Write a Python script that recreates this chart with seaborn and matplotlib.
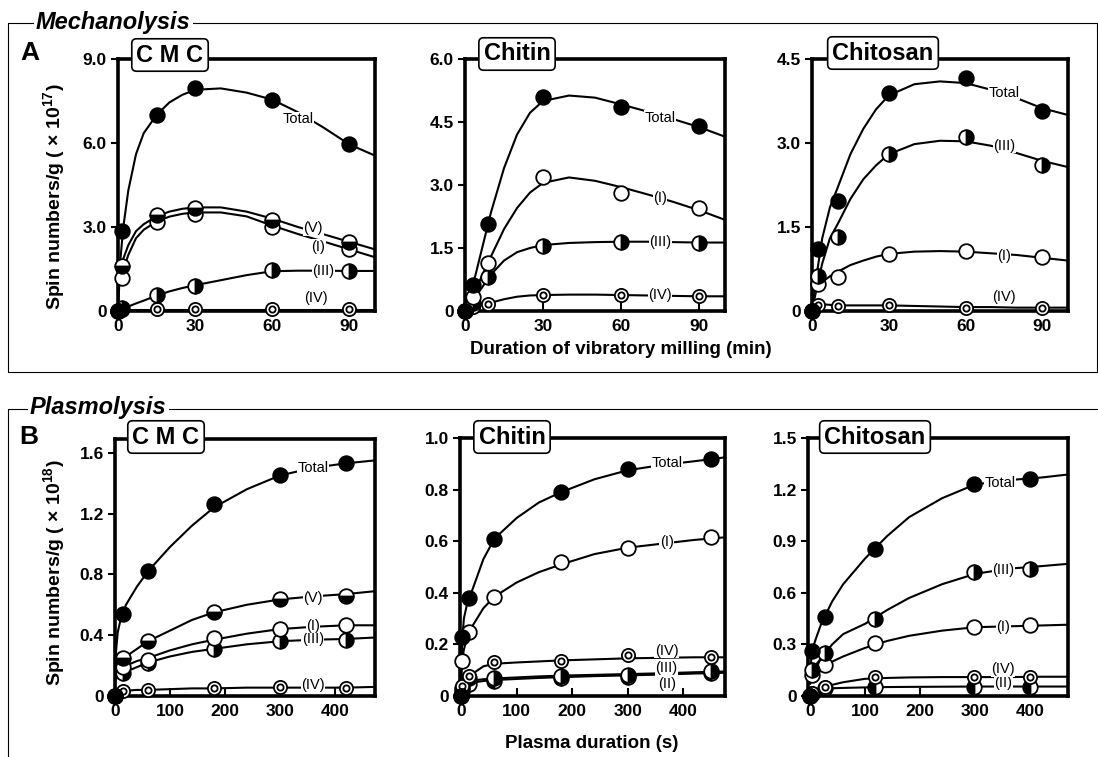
import numpy as np
import pandas as pd
import seaborn as sns
import matplotlib.pyplot as plt
from matplotlib.lines import Line2D

nan = np.nan

# ---- Mechanolysis (A), time in min ----
cmc_m_t = [0, 1.5, 15, 30, 60, 90]
cmc_m_total = [0, 2.85, 7.0, 7.95, 7.55, 5.95]
cmc_m_v = [0, 1.6, 3.42, 3.68, 3.24, 2.47]
cmc_m_i = [0, 1.17, 3.19, 3.48, 3.0, 2.22]
cmc_m_iii = [0, 0.12, 0.57, 0.9, 1.45, 1.43]
cmc_m_iv = [0, 0.05, 0.08, 0.08, 0.08, 0.08]

chi_m_t = [0, 3, 9, 30, 60, 90]
chi_m_total = [0, 0.62, 2.07, 5.1, 4.85, 4.4]
chi_m_i = [0, 0.34, 1.15, 3.18, 2.82, 2.45]
chi_m_iii = [0, 0.2, 0.8, 1.55, 1.65, 1.63]
chi_m_iv = [0, 0.1, 0.17, 0.39, 0.38, 0.35]

chs_m_t = [0, 2.5, 10, 30, 60, 90]
chs_m_total = [0, 1.1, 1.96, 3.89, 4.16, 3.57]
chs_m_iii = [0, 0.62, 1.32, 2.8, 3.1, 2.61]
chs_m_i = [0, 0.49, 0.6, 1.02, 1.07, 0.96]
chs_m_iv = [0, 0.1, 0.09, 0.1, 0.06, 0.06]

# fitted curves
m_curve_t = [0, 1, 2, 4, 7, 10, 15, 20, 25, 30, 40, 50, 60, 70, 80, 90, 100]
cmc_m_total_c = [0, 1.9, 2.95, 4.3, 5.6, 6.35, 7.0, 7.45, 7.72, 7.9, 7.95, 7.8, 7.55, 7.1, 6.55, 5.95, 5.55]
cmc_m_v_c = [nan, 1.5, 1.85, 2.35, 2.85, 3.1, 3.38, 3.55, 3.65, 3.7, 3.7, 3.55, 3.3, 3.0, 2.74, 2.47, 2.2]
cmc_m_i_c = [nan, 1.1, 1.45, 2.0, 2.6, 2.9, 3.2, 3.37, 3.47, 3.52, 3.52, 3.38, 3.05, 2.75, 2.48, 2.2, 1.92]
cmc_m_iii_c = [0, 0.04, 0.08, 0.16, 0.27, 0.37, 0.55, 0.7, 0.82, 0.92, 1.1, 1.28, 1.42, 1.44, 1.44, 1.43, 1.43]
cmc_m_iv_c = [0.05] * 17

chi_m_total_c = [0, 0.2, 0.42, 0.85, 1.6, 2.35, 3.4, 4.2, 4.72, 5.0, 5.13, 5.08, 4.92, 4.75, 4.57, 4.38, 4.15]
chi_m_i_c = [0, 0.12, 0.25, 0.5, 0.9, 1.3, 1.95, 2.45, 2.82, 3.05, 3.18, 3.1, 2.95, 2.78, 2.6, 2.4, 2.17]
chi_m_iii_c = [0, 0.08, 0.17, 0.33, 0.6, 0.87, 1.2, 1.4, 1.5, 1.57, 1.62, 1.64, 1.65, 1.65, 1.64, 1.63, 1.63]
chi_m_iv_c = [0, 0.03, 0.06, 0.1, 0.15, 0.2, 0.28, 0.34, 0.37, 0.38, 0.39, 0.39, 0.38, 0.37, 0.36, 0.35, 0.35]

chs_m_total_c = [0, 0.35, 0.7, 1.3, 1.85, 2.2, 2.8, 3.25, 3.6, 3.85, 4.05, 4.1, 4.07, 3.95, 3.8, 3.62, 3.5]
chs_m_iii_c = [0, 0.22, 0.45, 0.85, 1.3, 1.55, 2.0, 2.35, 2.6, 2.8, 2.98, 3.04, 3.03, 2.95, 2.82, 2.68, 2.57]
chs_m_i_c = [0.35, 0.4, 0.45, 0.52, 0.62, 0.7, 0.82, 0.9, 0.97, 1.02, 1.06, 1.07, 1.06, 1.03, 1.0, 0.95, 0.9]
chs_m_iv_c = [0.15, 0.14, 0.13, 0.12, 0.11, 0.1, 0.1, 0.1, 0.1, 0.1, 0.09, 0.08, 0.07, 0.07, 0.06, 0.06, 0.06]

# ---- Plasmolysis (B), time in s ----
cmc_p_t = [0, 15, 60, 180, 300, 420]
cmc_p_total = [0, 0.54, 0.82, 1.26, 1.45, 1.53]
cmc_p_v = [0, 0.25, 0.36, 0.55, 0.64, 0.66]
cmc_p_i = [0, 0.19, 0.24, 0.38, 0.44, 0.47]
cmc_p_iii = [0, 0.15, 0.22, 0.31, 0.36, 0.37]
cmc_p_iv = [0, 0.03, 0.04, 0.05, 0.06, 0.055]

chi_p_t = [0, 2, 15, 60, 180, 300, 450]
chi_p_total = [0, 0.23, 0.38, 0.61, 0.79, 0.88, 0.92]
chi_p_i = [0, 0.135, 0.25, 0.385, 0.52, 0.575, 0.615]
chi_p_iv = [0, 0.04, 0.077, 0.13, 0.137, 0.16, 0.15]
chi_p_iii = [0, 0.03, 0.07, 0.068, 0.078, 0.082, 0.098]
chi_p_ii = [0, 0.02, 0.045, 0.06, 0.07, 0.075, 0.09]

chs_p_t = [0, 3, 27, 117, 298, 400]
chs_p_total = [0, 0.26, 0.46, 0.855, 1.23, 1.26]
chs_p_iii = [0, 0.15, 0.25, 0.45, 0.72, 0.74]
chs_p_i = [0, 0.12, 0.18, 0.31, 0.4, 0.41]
chs_p_iv = [0, 0.02, 0.05, 0.11, 0.112, 0.112]
chs_p_ii = [0, 0.01, 0.045, 0.05, 0.055, 0.055]

p_curve_t = [0, 2, 5, 10, 20, 40, 60, 100, 140, 180, 240, 300, 360, 420, 475]
cmc_p_total_c = [0, 0.3, 0.42, 0.5, 0.6, 0.72, 0.82, 0.98, 1.12, 1.24, 1.36, 1.45, 1.5, 1.53, 1.55]
cmc_p_v_c = [0.18, 0.2, 0.22, 0.24, 0.26, 0.31, 0.36, 0.43, 0.5, 0.55, 0.6, 0.635, 0.655, 0.67, 0.69]
cmc_p_i_c = [0.12, 0.14, 0.16, 0.18, 0.2, 0.23, 0.25, 0.3, 0.34, 0.37, 0.41, 0.44, 0.455, 0.465, 0.465]
cmc_p_iii_c = [0.1, 0.11, 0.13, 0.14, 0.16, 0.19, 0.22, 0.26, 0.29, 0.31, 0.34, 0.36, 0.37, 0.375, 0.385]
cmc_p_iv_c = [0.02, 0.025, 0.03, 0.03, 0.035, 0.04, 0.04, 0.045, 0.05, 0.05, 0.055, 0.055, 0.055, 0.055, 0.06]

chi_p_total_c = [0, 0.22, 0.3, 0.35, 0.41, 0.53, 0.61, 0.69, 0.75, 0.79, 0.84, 0.875, 0.895, 0.91, 0.925]
chi_p_i_c = [0.08, 0.14, 0.18, 0.22, 0.27, 0.34, 0.385, 0.44, 0.48, 0.51, 0.55, 0.575, 0.59, 0.605, 0.615]
chi_p_iv_c = [0, 0.02, 0.04, 0.06, 0.085, 0.115, 0.125, 0.13, 0.134, 0.138, 0.142, 0.146, 0.148, 0.15, 0.15]
chi_p_iii_c = [0, 0.02, 0.035, 0.05, 0.06, 0.065, 0.068, 0.072, 0.076, 0.079, 0.082, 0.085, 0.088, 0.092, 0.095]
chi_p_ii_c = [0, 0.015, 0.03, 0.042, 0.052, 0.058, 0.062, 0.066, 0.07, 0.073, 0.077, 0.08, 0.083, 0.087, 0.09]

chs_p_total_c = [0.12, 0.22, 0.28, 0.33, 0.42, 0.55, 0.65, 0.8, 0.93, 1.04, 1.15, 1.23, 1.255, 1.27, 1.29]
chs_p_iii_c = [0.08, 0.12, 0.15, 0.18, 0.22, 0.3, 0.36, 0.42, 0.5, 0.57, 0.65, 0.71, 0.74, 0.755, 0.77]
chs_p_i_c = [0.07, 0.1, 0.12, 0.14, 0.16, 0.2, 0.23, 0.28, 0.32, 0.35, 0.38, 0.4, 0.405, 0.41, 0.415]
chs_p_iv_c = [0, 0.01, 0.02, 0.03, 0.045, 0.065, 0.08, 0.1, 0.105, 0.108, 0.11, 0.11, 0.11, 0.112, 0.112]
chs_p_ii_c = [0, 0.01, 0.02, 0.03, 0.04, 0.045, 0.047, 0.05, 0.052, 0.053, 0.054, 0.055, 0.055, 0.055, 0.055]

sns.set_theme(style="white")
plt.rcParams['font.family'] = ['Liberation Sans', 'DejaVu Sans']
plt.rcParams['text.color'] = 'black'
plt.rcParams['xtick.color'] = 'black'
plt.rcParams['ytick.color'] = 'black'
plt.rcParams['mathtext.fontset'] = 'custom'
plt.rcParams['mathtext.rm'] = 'Liberation Sans:bold'
plt.rcParams['mathtext.bf'] = 'Liberation Sans:bold'
plt.rcParams['mathtext.it'] = 'Liberation Sans:bold'

W, H = 1098, 757
fig = plt.figure(figsize=(W / 100, H / 100), dpi=100)


def rect(left, right, top, bottom):
    return [left / W, 1 - bottom / H, (right - left) / W, (bottom - top) / H]


def fx(px):
    return px / W


def fy(py):
    return 1 - py / H


def markers(ax, x, y, kind):
    base = dict(linestyle='none', marker='o', ms=10.5, mec='black', mew=1.3,
                clip_on=False, zorder=5)
    if kind == 'total':
        ax.plot(x, y, mfc='black', **base)
    elif kind == 'i':
        ax.plot(x, y, mfc='white', **base)
    elif kind == 'iii':
        ax.plot(x, y, mfc='black', fillstyle='right', markerfacecoloralt='white', **base)
    elif kind == 'ii':
        ax.plot(x, y, mfc='black', fillstyle='left', markerfacecoloralt='white', **base)
    elif kind == 'v':
        ax.plot(x, y, mfc='black', fillstyle='bottom', markerfacecoloralt='white', **base)
    elif kind == 'iv':
        base['ms'] = 9.5
        ax.plot(x, y, mfc='white', **base)
        base['ms'] = 4.5
        ax.plot(x, y, mfc='white', **base)


panels = [
    dict(rect=rect(118, 375, 59, 311), xlim=(0, 100), ylim=(0, 9.0),
         xt=[0, 30, 60, 90], yt=[0, 3, 6, 9], ytl=['0', '3.0', '6.0', '9.0'],
         t=cmc_m_t, ct=m_curve_t, box=('C M C', 170, 55),
         series=[('iv', cmc_m_iv, cmc_m_iv_c, '(IV)', 77, 0.45),
                 ('iii', cmc_m_iii, cmc_m_iii_c, '(III)', 80, 1.43),
                 ('i', cmc_m_i, cmc_m_i_c, '(I)', 78, 2.3),
                 ('v', cmc_m_v, cmc_m_v_c, '(V)', 76, 2.95),
                 ('total', cmc_m_total, cmc_m_total_c, 'Total', 70, 6.85)]),
    dict(rect=rect(465, 725, 59, 311), xlim=(0, 100), ylim=(0, 6.0),
         xt=[0, 30, 60, 90], yt=[0, 1.5, 3, 4.5, 6], ytl=['0', '1.5', '3.0', '4.5', '6.0'],
         t=chi_m_t, ct=m_curve_t, box=('Chitin', 517, 54),
         series=[('iv', chi_m_iv, chi_m_iv_c, '(IV)', 75, 0.37),
                 ('iii', chi_m_iii, chi_m_iii_c, '(III)', 75, 1.64),
                 ('i', chi_m_i, chi_m_i_c, '(I)', 75, 2.68),
                 ('total', chi_m_total, chi_m_total_c, 'Total', 75, 4.6)]),
    dict(rect=rect(812, 1068, 59, 311), xlim=(0, 100), ylim=(0, 4.5),
         xt=[0, 30, 60, 90], yt=[0, 1.5, 3, 4.5], ytl=['0', '1.5', '3.0', '4.5'],
         t=chs_m_t, ct=m_curve_t, box=('Chitosan', 883, 53),
         series=[('iv', chs_m_iv, chs_m_iv_c, '(IV)', 75, 0.25),
                 ('i', chs_m_i, chs_m_i_c, '(I)', 75, 0.98),
                 ('iii', chs_m_iii, chs_m_iii_c, '(III)', 75, 2.95),
                 ('total', chs_m_total, chs_m_total_c, 'Total', 75, 3.9)]),
    dict(rect=rect(115, 375, 439, 696), xlim=(0, 473), ylim=(0, 1.69),
         xt=[0, 100, 200, 300, 400], yt=[0, 0.4, 0.8, 1.2, 1.6], ytl=['0', '0.4', '0.8', '1.2', '1.6'],
         t=cmc_p_t, ct=p_curve_t, box=('C M C', 166, 437),
         series=[('iv', cmc_p_iv, cmc_p_iv_c, '(IV)', 360, 0.07),
                 ('iii', cmc_p_iii, cmc_p_iii_c, '(III)', 360, 0.372),
                 ('i', cmc_p_i, cmc_p_i_c, '(I)', 360, 0.462),
                 ('v', cmc_p_v, cmc_p_v_c, '(V)', 360, 0.645),
                 ('total', cmc_p_total, cmc_p_total_c, 'Total', 360, 1.5)]),
    dict(rect=rect(460, 725, 438, 696), xlim=(-2, 475), ylim=(0, 1.0),
         xt=[0, 100, 200, 300, 400], yt=[0, 0.2, 0.4, 0.6, 0.8, 1.0], ytl=['0', '0.2', '0.4', '0.6', '0.8', '1.0'],
         t=chi_p_t, ct=p_curve_t, box=('Chitin', 512, 437),
         series=[('ii', chi_p_ii, chi_p_ii_c, '(II)', 370, 0.048),
                 ('iii', chi_p_iii, chi_p_iii_c, '(III)', 370, 0.108),
                 ('iv', chi_p_iv, chi_p_iv_c, '(IV)', 370, 0.175),
                 ('i', chi_p_i, chi_p_i_c, '(I)', 370, 0.595),
                 ('total', chi_p_total, chi_p_total_c, 'Total', 371, 0.905)]),
    dict(rect=rect(808, 1068, 438, 696), xlim=(-4, 469), ylim=(0, 1.5),
         xt=[0, 100, 200, 300, 400], yt=[0, 0.3, 0.6, 0.9, 1.2, 1.5], ytl=['0', '0.3', '0.6', '0.9', '1.2', '1.5'],
         t=chs_p_t, ct=p_curve_t, box=('Chitosan', 875, 437),
         series=[('ii', chs_p_ii, chs_p_ii_c, '(II)', 351, 0.075),
                 ('iv', chs_p_iv, chs_p_iv_c, '(IV)', 351, 0.155),
                 ('i', chs_p_i, chs_p_i_c, '(I)', 351, 0.4),
                 ('iii', chs_p_iii, chs_p_iii_c, '(III)', 351, 0.73),
                 ('total', chs_p_total, chs_p_total_c, 'Total', 345, 1.24)]),
]

for p in panels:
    ax = fig.add_axes(p['rect'])
    for kind, ys, yc, lab, lx, ly in p['series']:
        curve = pd.DataFrame({'t': p['ct'], 'y': yc}).dropna()
        sns.lineplot(data=curve, x='t', y='y', color='black', lw=1.5, ax=ax, zorder=2)
        ax.text(lx, ly, lab, ha='center', va='center', fontsize=10.5,
                bbox=dict(fc='white', ec='none', pad=0.3), zorder=4)
    for kind, ys, yc, lab, lx, ly in p['series']:
        markers(ax, p['t'], ys, kind)
    ax.set_xlim(*p['xlim'])
    ax.set_ylim(*p['ylim'])
    ax.set_xlabel('')
    ax.set_ylabel('')
    ax.set_xticks(p['xt'], [str(v) for v in p['xt']], fontweight='bold', fontsize=12.5)
    ax.set_yticks(p['yt'], p['ytl'], fontweight='bold', fontsize=12.5)
    ax.tick_params(axis='x', direction='in', length=6, width=1.5, pad=6, bottom=True)
    ax.tick_params(axis='y', direction='out', length=5, width=1.5, pad=3, left=True)
    for sp in ax.spines.values():
        sp.set_linewidth(2.6)
        sp.set_color('black')
        sp.set_zorder(3)
    name, bx, by = p['box']
    fig.text(fx(bx), fy(by), name, ha='center', va='center', fontsize=17, fontweight='bold',
             bbox=dict(boxstyle='round,pad=0.2', fc='white', ec='black', lw=1.2), zorder=10)

# y labels
ylab = 'Spin numbers/g ( \u00d7 10$^{%s}$)'
fig.text(fx(54), fy(197), ylab % '17', rotation=90, ha='center', va='center',
         fontsize=14, fontweight='bold')
fig.text(fx(54), fy(573), ylab % '18', rotation=90, ha='center', va='center',
         fontsize=14, fontweight='bold')

# x labels
fig.text(fx(621), fy(349), 'Duration of vibratory milling (min)', ha='center', va='center',
         fontsize=13.5, fontweight='bold')
fig.text(fx(592), fy(744), 'Plasma duration (s)', ha='center', va='center',
         fontsize=13.5, fontweight='bold')

# group frames
lk = dict(color='black', lw=0.8, transform=fig.transFigure)
fig.add_artist(Line2D([fx(8), fx(1097), fx(1097), fx(8), fx(8)],
                      [fy(23), fy(23), fy(372), fy(372), fy(23)], **lk))
fig.add_artist(Line2D([fx(1098), fx(8), fx(8)], [fy(409), fy(409), fy(757)], **lk))
fig.text(fx(36), fy(22), 'Mechanolysis', ha='left', va='center', fontsize=17,
         fontweight='bold', fontstyle='italic',
         bbox=dict(fc='white', ec='none', pad=1.5))
fig.text(fx(30), fy(407), 'Plasmolysis', ha='left', va='center', fontsize=17,
         fontweight='bold', fontstyle='italic',
         bbox=dict(fc='white', ec='none', pad=1.5))
fig.text(fx(30), fy(53), 'A', ha='center', va='center', fontsize=19, fontweight='bold')
fig.text(fx(29), fy(437), 'B', ha='center', va='center', fontsize=19, fontweight='bold')

fig.savefig('out.png', dpi=100)
